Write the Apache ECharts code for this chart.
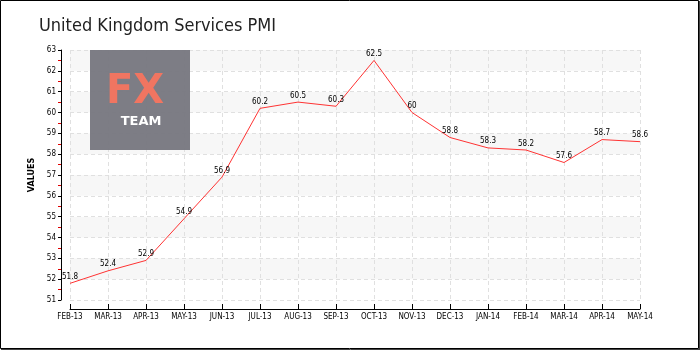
<!DOCTYPE html>
<html><head><meta charset="utf-8">
<script src="https://cdn.jsdelivr.net/npm/echarts@6/dist/echarts.min.js"></script>
<style>html,body{margin:0;padding:0;background:#fff}#c{width:700px;height:350px}</style>
</head><body><div id="c"></div>
<script>
const titleText = 'United Kingdom Services PMI';
const categories = ['FEB-13','MAR-13','APR-13','MAY-13','JUN-13','JUL-13','AUG-13','SEP-13','OCT-13','NOV-13','DEC-13','JAN-14','FEB-14','MAR-14','APR-14','MAY-14'];
const values = [51.8,52.4,52.9,54.9,56.9,60.2,60.5,60.3,62.5,60,58.8,58.3,58.2,57.6,58.7,58.6];
const yMin = 51, yMax = 63, yInterval = 1;
const yName = 'VALUES';

const chart = echarts.init(document.getElementById('c'), null, {renderer:'canvas'});
const lblFont = {fontFamily:'DejaVu Sans Condensed', fontSize:8, color:'#000'};
chart.setOption({
  animation:false,
  backgroundColor:'#fff',
  title:{text:titleText, left:34, top:12, textStyle:{fontFamily:'DejaVu Sans Condensed', fontSize:18, fontWeight:'normal', color:'#222'}},
  grid:{left:70, right:60, top:50, bottom:50, containLabel:false},
  xAxis:{type:'category', data:categories, boundaryGap:false, offset:9,
    axisLine:{lineStyle:{color:'#000', width:1}},
    axisTick:{inside:true, length:5, interval:0, lineStyle:{color:'#000'}},
    axisLabel:Object.assign({margin:4, interval:0}, lblFont),
    splitLine:{show:true, interval:0, lineStyle:{color:'#e0e0e0', type:[4,3]}}
  },
  yAxis:{type:'value', min:yMin, max:yMax, interval:yInterval, offset:9,
    name:yName, nameLocation:'middle', nameGap:22, nameRotate:90,
    nameTextStyle:{fontFamily:'DejaVu Sans', fontSize:8, fontWeight:'bold', color:'#000'},
    axisLine:{show:true, lineStyle:{color:'#000', width:1}},
    axisTick:{show:true, length:3, lineStyle:{color:'#000'}},
    minorTick:{show:true, splitNumber:2, length:3, lineStyle:{color:'#e00000'}},
    axisLabel:Object.assign({margin:5}, lblFont),
    splitLine:{show:true, lineStyle:{color:'#e0e0e0', type:[4,3]}},
    splitArea:{show:true, areaStyle:{color:['#ffffff','#f7f7f7']}}
  },
  series:[{type:'line', data:values, showSymbol:true, symbol:'circle', symbolSize:1,
    itemStyle:{color:'rgba(255,51,51,0)'},
    lineStyle:{color:'#ff3333', width:1},
    label:{show:true, position:'top', distance:2, fontFamily:'DejaVu Sans Condensed', fontSize:8, color:'#000'},
    z:3
  }],
  graphic:[
    {type:'rect', shape:{x:90,y:50,width:100,height:100}, style:{fill:'rgba(118,118,126,0.95)'}, z:10},
    {type:'text', style:{text:'FX', x:135, y:93, fontFamily:'DejaVu Sans', fontSize:40, fontWeight:'bold', fill:'#f07561', textAlign:'center', textVerticalAlign:'middle'}, z:11},
    {type:'text', style:{text:'TEAM', x:141, y:122, fontFamily:'DejaVu Sans', fontSize:13, fontWeight:'bold', fill:'#ffffff', textAlign:'center', textVerticalAlign:'middle'}, z:11},
    {type:'rect', shape:{x:0.5,y:0.5,width:698,height:348}, style:{fill:'none', stroke:'#000', lineWidth:1}, z:20},
    {type:'line', shape:{x1:699.5,y1:1,x2:699.5,y2:350}, style:{stroke:'#444', lineWidth:1}, z:20},
    {type:'line', shape:{x1:1,y1:349.5,x2:700,y2:349.5}, style:{stroke:'#444', lineWidth:1}, z:20}
  ]
});
</script></body></html>
